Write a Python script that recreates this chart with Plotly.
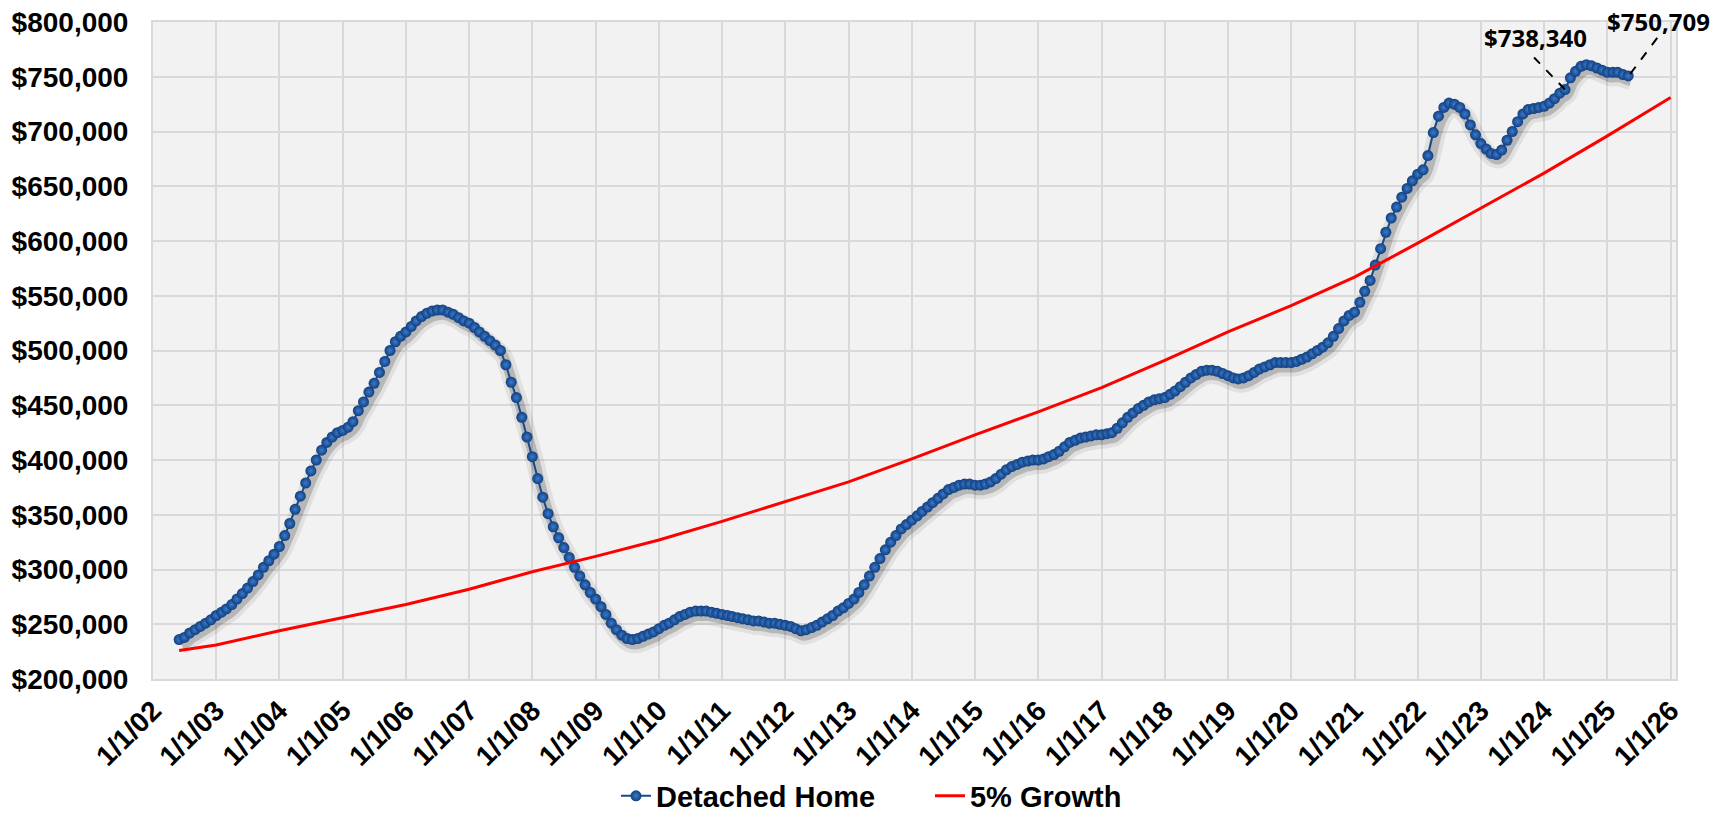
import pandas as pd
import plotly.graph_objects as go

# ---------------- data (values in thousands of $) ----------------
home_start = "2002-06-01"   # first monthly observation
home_2002 = [236, 238, 242, 245, 248, 251, 254]
home_2003 = [258, 261, 264, 268, 273, 278, 283, 289, 295, 302, 308, 314]
home_2004 = [321, 331, 342, 355, 367, 379, 390, 400, 409, 416, 421, 425]
home_2005 = [427, 430, 435, 445, 453, 462, 470, 480, 490, 500, 508, 513]
home_2006 = [517, 522, 527, 531, 534, 536, 537, 537, 535, 533, 530, 527]
home_2007 = [525, 521, 517, 513, 509, 505, 500, 487, 471, 457, 439, 421]
home_2008 = [403, 383, 366, 351, 339, 329, 320, 311, 302, 294, 286, 279]
home_2009 = [273, 266, 259, 251, 245, 240, 237, 236, 237, 239, 241, 243]
home_2010 = [246, 249, 251, 254, 257, 259, 261, 262, 262, 262, 261, 260]
home_2011 = [259, 258, 257, 256, 255, 254, 253, 253, 252, 251, 251, 250]
home_2012 = [249, 248, 246, 244, 245, 247, 249, 252, 255, 258, 262, 265]
home_2013 = [269, 273, 279, 286, 294, 302, 310, 318, 325, 331, 337, 341]
home_2014 = [345, 349, 353, 357, 361, 365, 369, 373, 375, 377, 378, 378]
home_2015 = [377, 377, 378, 380, 383, 387, 391, 394, 396, 398, 399, 400]
home_2016 = [400, 401, 403, 405, 408, 412, 416, 418, 420, 421, 422, 423]
home_2017 = [423, 424, 425, 429, 434, 439, 443, 447, 450, 453, 455, 456]
home_2018 = [457, 460, 463, 467, 471, 475, 478, 481, 482, 482, 481, 479]
home_2019 = [477, 475, 474, 475, 477, 480, 483, 485, 487, 489, 489, 489]
home_2020 = [489, 490, 492, 494, 497, 500, 503, 507, 513, 520, 527, 532]
home_2021 = [535, 544, 554, 564, 578, 593, 608, 621, 631, 640, 648, 655]
home_2022 = [661, 665, 678, 699, 714, 722, 726, 725, 722, 716, 706, 697]
home_2023 = [689, 684, 680, 679, 683, 692, 700, 709, 716, 720, 721, 722]
home_2024 = [723, 726, 730, 735, 738.340, 749, 755, 759.5, 761, 760, 758, 756]
home_2025 = [754, 754, 754, 752, 750.709]

growth_dates = ["2002-06-01"] + [f"{y}-01-01" for y in range(2003, 2027)]
growth_vals = [226, 231, 244, 256, 268, 282, 298, 312, 327, 344, 362, 380, 401,
               423, 444, 466, 491, 517, 541, 567, 598, 630, 662, 696, 731]

tick_dates = [f"{y}-01-01" for y in range(2002, 2027)]
tick_labels = [f"1/1/{y % 100:02d}" for y in range(2002, 2027)]

label_points = [("2024-05-01", 738340, "$738,340"), ("2025-05-01", 750709, "$750,709")]

# ---------------- build ----------------
home_k = (home_2002 + home_2003 + home_2004 + home_2005 + home_2006 + home_2007 +
          home_2008 + home_2009 + home_2010 + home_2011 + home_2012 + home_2013 +
          home_2014 + home_2015 + home_2016 + home_2017 + home_2018 + home_2019 +
          home_2020 + home_2021 + home_2022 + home_2023 + home_2024 + home_2025)
home_vals = [v * 1000 for v in home_k]
home_dates = [d.strftime("%Y-%m-%d") for d in
              pd.date_range(start=home_start, periods=len(home_vals), freq="MS")]
growth_y = [v * 1000 for v in growth_vals]

W, H = 1721, 814
ML, MR, MT, MB = 153, 45, 22, 135
plot_h = H - MT - MB

x_range = ["2002-01-01", "2026-02-01"]
y_range = [200000, 800000]
sy = 5  # shadow drop in px
dy = (y_range[1] - y_range[0]) / plot_h * sy

FONT = "Liberation Sans, Arial, sans-serif"
grid_c = "#D9D9D9"
TICK_SIZE = 28

fig = go.Figure()

# soft drop shadow under the detached-home curve (hidden main y axis shifted by a few px)
for col, wd in [("rgba(0,0,0,0.07)", 18), ("rgba(0,0,0,0.18)", 10)]:
    fig.add_trace(go.Scatter(x=home_dates, y=home_vals, mode="lines", xaxis="x", yaxis="y",
                             xperiod="M1", xperiodalignment="middle",
                             line=dict(color=col, width=wd, shape="spline"),
                             showlegend=False, hoverinfo="skip"))

fig.add_trace(go.Scatter(x=home_dates, y=home_vals, mode="lines+markers", name="Detached Home",
                         xaxis="x", yaxis="y2",
                         line=dict(color="#174A8A", width=2),
                         marker=dict(size=11, color="#123F7D",
                                     gradient=dict(type="radial", color="#3A7BCF"),
                                     line=dict(width=0))))
fig.add_trace(go.Scatter(x=growth_dates, y=growth_y, mode="lines", name="5% Growth",
                         xaxis="x", yaxis="y2",
                         line=dict(color="#FF0000", width=3)))

fig.update_layout(
    width=W, height=H,
    margin=dict(l=ML, r=MR, t=MT, b=MB, autoexpand=False),
    paper_bgcolor="white", plot_bgcolor="#F2F2F2",
    font=dict(family=FONT, color="black"),
    showlegend=True,
    legend=dict(orientation="h", x=0.304, xanchor="left", y=-0.178, yanchor="middle",
                font=dict(family=FONT, size=29, color="black", weight="bold"),
                bgcolor="rgba(0,0,0,0)", entrywidth=269, entrywidthmode="pixels"),
    xaxis=dict(type="date", range=x_range, tickmode="array", tickvals=tick_dates,
               ticktext=tick_labels, tickangle=-45, showgrid=True, gridcolor=grid_c,
               gridwidth=2, showline=True, linecolor=grid_c, linewidth=2, mirror=True,
               zeroline=False, ticks="", ticklabelstandoff=2, ticklabeloverflow="allow",
               tickfont=dict(family=FONT, size=TICK_SIZE, color="black", weight="bold")),
    yaxis=dict(range=[y_range[0] + dy, y_range[1] + dy], visible=False, showgrid=False,
               zeroline=False),
    yaxis2=dict(range=y_range, overlaying="y", anchor="x", side="left",
                dtick=50000, tick0=200000, tickprefix="$", tickformat=",.0f",
                showgrid=True, gridcolor=grid_c, gridwidth=2, showline=True, linecolor=grid_c,
                linewidth=2, mirror=True, zeroline=False, ticks="", ticklabelstandoff=17,
                ticklabeloverflow="allow",
                tickfont=dict(family=FONT, size=TICK_SIZE, color="black", weight="bold")),
)

leaders = [(0, 0, -31, 32), (2, 2, 29, 38)]
text_shift = [(-30, 52), (30, 54)]
for (d, v, txt), (a, b, c, e), (tx, ty) in zip(label_points, leaders, text_shift):
    fig.add_shape(type="line", xref="x", yref="y2", xsizemode="pixel", ysizemode="pixel",
                  xanchor=d, yanchor=v, x0=a, y0=b, x1=c, y1=e,
                  line=dict(color="black", width=2, dash="dash"))
    fig.add_annotation(x=d, y=v, xref="x", yref="y2", text=txt, showarrow=False,
                       xshift=tx, yshift=ty,
                       font=dict(family="Noto Sans, Open Sans, sans-serif", size=24,
                                 color="black", weight="bold"))

# remove the browser's default 8px page margin so the figure fills the window exactly
fig.write_html("out.html", config={"displayModeBar": False},
               post_script="document.body.style.margin='0px';")
